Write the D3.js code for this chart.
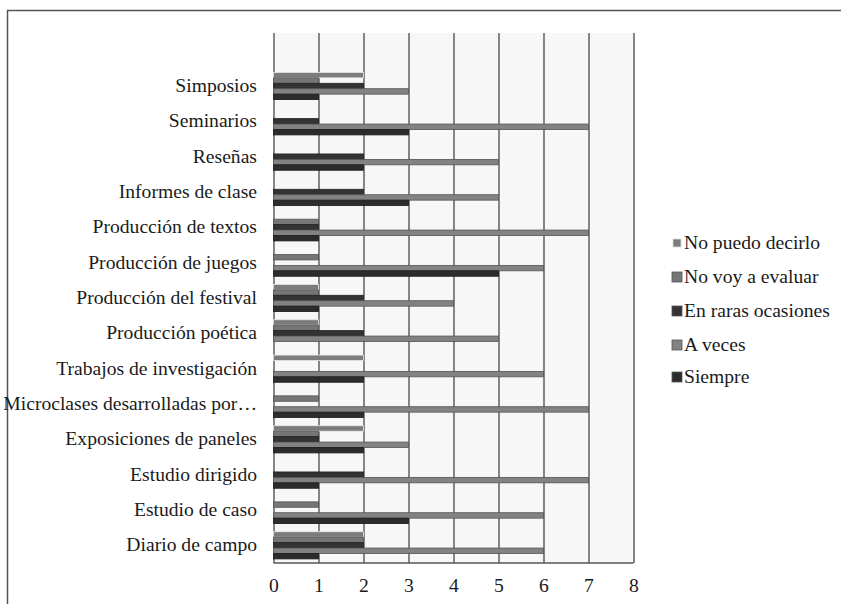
<!DOCTYPE html>
<html>
<head>
<meta charset="utf-8">
<script src="https://cdn.jsdelivr.net/npm/d3@7"></script>
<style>
  html, body { margin: 0; padding: 0; background: #ffffff; }
  svg text { fill: #1a1a1a; }
</style>
</head>
<body>
<svg id="chart" width="841" height="604"></svg>
<script>
// Categories, listed top to bottom
const categories = [
  "Simposios",
  "Seminarios",
  "Reseñas",
  "Informes de clase",
  "Producción de textos",
  "Producción de juegos",
  "Producción del festival",
  "Producción poética",
  "Trabajos de investigación",
  "Microclases desarrolladas por…",
  "Exposiciones de paneles",
  "Estudio dirigido",
  "Estudio de caso",
  "Diario de campo"
];

// Series names, in the order the bars sit inside each group (top to bottom)
const seriesNames = ["No puedo decirlo", "No voy a evaluar", "En raras ocasiones", "A veces", "Siempre"];

// Counts per category for each series
const noPuedoDecirlo   = [2, 0, 0, 0, 0, 0, 1, 1, 2, 0, 2, 0, 0, 2];
const noVoyAEvaluar    = [1, 0, 0, 0, 1, 1, 1, 1, 0, 1, 1, 0, 1, 2];
const enRarasOcasiones = [2, 1, 2, 2, 1, 0, 2, 2, 0, 0, 1, 2, 0, 2];
const aVeces           = [3, 7, 5, 5, 7, 6, 4, 5, 6, 7, 3, 7, 6, 6];
const siempre          = [1, 3, 2, 3, 1, 5, 1, 0, 2, 2, 2, 1, 3, 1];

// Axis tick values
const xTicks = [0, 1, 2, 3, 4, 5, 6, 7, 8];

const seriesValues = [noPuedoDecirlo, noVoyAEvaluar, enRarasOcasiones, aVeces, siempre];

const fills   = ["#7c7c7c", "#767676", "#333333", "#828282", "#2c2c2c"];
const strokes = ["#e8e8e8", "#555555", "#222222", "#555555", "#1c1c1c"];

const FONT = "'Liberation Serif', 'Times New Roman', Times, 'DejaVu Serif', serif";
const svg = d3.select("#chart");
const textScale = 1.09;
const fontSize = 18;

// Outer frame (only top and left edges fall inside the canvas)
svg.append("path")
  .attr("d", "M7.5,604 V10.5 H841")
  .attr("fill", "none")
  .attr("stroke", "#555")
  .attr("stroke-width", 1.5);

const plot = { left: 273.5, right: 633.5, top: 33, bottom: 563 };
const step = (plot.bottom - plot.top) / (categories.length + 1);

const x = d3.scaleLinear().domain([0, 8]).range([plot.left, plot.right]);

// One empty slot is left above the first category
const y = d3.scaleBand()
  .domain(categories)
  .range([plot.top + step, plot.bottom])
  .paddingInner(0).paddingOuter(0);

const ySub = d3.scaleBand()
  .domain(seriesNames)
  .range([0, y.bandwidth()])
  .paddingInner(0)
  .paddingOuter(0.75);

// Plot background
svg.append("rect")
  .attr("x", plot.left).attr("y", plot.top)
  .attr("width", plot.right - plot.left)
  .attr("height", plot.bottom - plot.top)
  .attr("fill", "#f7f7f7");

// Vertical gridlines and tick labels
const xAxis = d3.axisBottom(x)
  .tickValues(xTicks)
  .tickSize(-(plot.bottom - plot.top))
  .tickFormat(d3.format("d"));

const gx = svg.append("g")
  .attr("transform", `translate(0,${plot.bottom})`)
  .call(xAxis)
  .attr("font-family", FONT)
  .attr("font-size", fontSize);
gx.select(".domain").remove();
gx.selectAll(".tick line")
  .attr("stroke", "#555")
  .attr("stroke-width", 1.4);
gx.selectAll(".tick text")
  .attr("y", 0).attr("dy", 0)
  .attr("transform", `translate(0,29) scale(${textScale},1)`)
  .attr("font-family", FONT)
  .attr("font-size", fontSize)
  .attr("fill", "#1a1a1a");

// Bottom edge of the plot
svg.append("line")
  .attr("x1", plot.left).attr("x2", plot.right)
  .attr("y1", plot.bottom).attr("y2", plot.bottom)
  .attr("stroke", "#555").attr("stroke-width", 1.4);

// Bars
const groups = svg.append("g").selectAll("g")
  .data(categories)
  .join("g")
  .attr("transform", d => `translate(0,${y(d)})`);

groups.selectAll("rect")
  .data((c, i) => seriesNames.map((s, k) => ({ series: s, k, value: seriesValues[k][i] })))
  .join("rect")
  .filter(d => d.value > 0)
  .attr("x", x(0))
  .attr("y", d => ySub(d.series))
  .attr("width", d => x(d.value) - x(0))
  .attr("height", ySub.bandwidth())
  .attr("fill", d => fills[d.k])
  .attr("stroke", d => strokes[d.k])
  .attr("stroke-width", 0.8);

// Category labels
svg.append("g").selectAll("text")
  .data(categories)
  .join("text")
  .attr("transform", d => `translate(257,${y(d) + y.bandwidth() / 2 + 6}) scale(${textScale},1)`)
  .attr("text-anchor", "end")
  .attr("font-family", FONT)
  .attr("font-size", fontSize)
  .text(d => d);

// Legend
const legendY = [243, 277, 311, 345, 377];
const legend = svg.append("g").selectAll("g")
  .data(seriesNames)
  .join("g")
  .attr("transform", (d, i) => `translate(672,${legendY[i]})`);

legend.append("rect")
  .attr("x", (d, i) => i === 0 ? 1 : 0)
  .attr("y", (d, i) => i === 0 ? -4 : -5)
  .attr("width", (d, i) => i === 0 ? 8 : 10)
  .attr("height", (d, i) => i === 0 ? 8 : 10)
  .attr("fill", (d, i) => fills[i])
  .attr("stroke", (d, i) => i === 0 ? "#dcdcdc" : "#555")
  .attr("stroke-width", 0.8);

legend.append("text")
  .attr("transform", `translate(12,6) scale(${textScale},1)`)
  .attr("font-family", FONT)
  .attr("font-size", fontSize)
  .text(d => d);
</script>
</body>
</html>
